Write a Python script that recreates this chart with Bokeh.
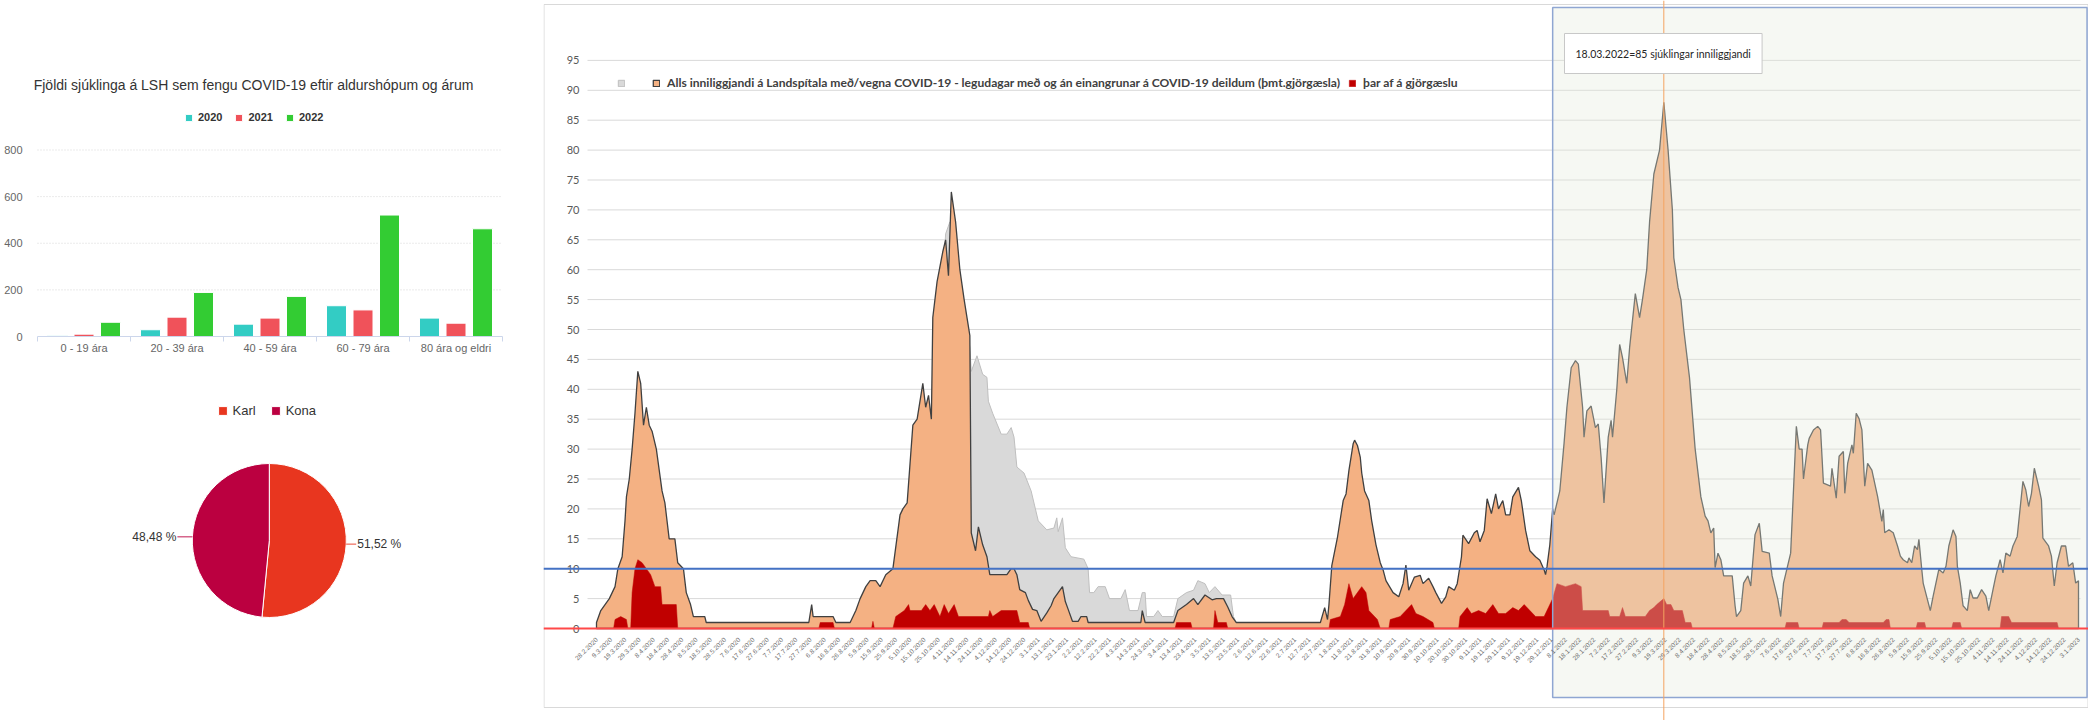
import math
from datetime import date, timedelta
from bokeh.plotting import figure
from bokeh.layouts import row, column
from bokeh.models import Range1d, FixedTicker, Span, Label, Legend, LegendItem, LinearAxis
from bokeh.embed import file_html
from bokeh.resources import INLINE

# ---------------- data: left bar chart ----------------
age_groups = ["0 - 19 ára", "20 - 39 ára", "40 - 59 ára", "60 - 79 ára", "80 ára og eldri"]
years = ["2020", "2021", "2022"]
patients_2020 = [3, 29, 53, 132, 79]
patients_2021 = [10, 83, 79, 114, 57]
patients_2022 = [61, 189, 172, 521, 462]
bar_ticks = [0, 200, 400, 600, 800]
bar_title = "Fjöldi sjúklinga á LSH sem fengu COVID-19 eftir aldurshópum og árum"

# ---------------- data: pie ----------------
sex_labels = ["Karl", "Kona"]
sex_share = [51.52, 48.48]
sex_text = ["51,52 %", "48,48 %"]

# ---------------- data: right area chart ----------------
START = date(2020, 2, 28)
inpatient_day = [0, 3, 6, 9, 11, 13, 15, 18, 20, 21, 23, 25, 27, 29, 31, 33, 35, 37, 39, 42, 46, 48, 51, 55, 57, 61, 63, 66, 68, 76, 77,
                 149, 151, 152, 166, 168, 178, 182, 185, 189, 192, 196, 199, 203, 208, 213, 215, 218, 222, 225, 229, 231, 233, 235,
                 236, 239, 243, 245, 247, 249, 252, 255, 258, 260, 262, 263, 266, 268, 271, 274, 276, 288, 291, 293, 295, 297, 301,
                 303, 306, 309, 312, 316, 319, 321, 324, 327, 329, 331, 334, 338, 340, 344, 345, 382, 383, 385, 405, 408, 414, 419,
                 422, 427, 432, 435, 440, 443, 446, 449, 508, 511, 513, 514, 516, 520, 524, 526, 528, 531, 532, 534, 536, 537, 539,
                 542, 544, 547, 550, 552, 554, 559, 563, 566, 568, 570, 574, 578, 580, 584, 587, 589, 593, 596, 598, 602, 604, 607,
                 608, 612, 616, 618, 620, 623, 625, 628, 631, 633, 636, 638, 641, 643, 647, 649, 652, 655, 659, 662, 665, 666, 667,
                 669, 671, 672, 676, 679, 681, 684, 687, 689, 692, 693, 695, 698, 701, 703, 705, 707, 710, 712, 713, 716, 718, 720,
                 723, 725, 729, 732, 734, 737, 739, 742, 746, 749, 752, 755, 756, 759, 761, 763, 767, 771, 775, 778, 780, 782, 784,
                 785, 787, 789, 791, 797, 799, 800, 803, 805, 808, 810, 813, 816, 818, 823, 825, 829, 831, 833, 838, 842, 844, 846,
                 847, 850, 851, 854, 857, 859, 861, 866, 867, 870, 872, 875, 876, 878, 881, 882, 884, 886, 888, 890, 892, 895, 899,
                 902, 903, 904, 907, 910, 913, 915, 917, 920, 921, 923, 925, 927, 928, 930, 931, 936, 938, 942, 945, 947, 949, 952,
                 954, 955, 957, 959, 962, 964, 966, 969, 972, 975, 977, 980, 982, 985, 987, 989, 992, 994, 997, 1001, 1003, 1005,
                 1007, 1009, 1012, 1014, 1015, 1019, 1021, 1023, 1025, 1028, 1031, 1033, 1036, 1038, 1040]
inpatient_val = [1, 3, 4, 5, 6, 7, 10, 12, 18, 22, 25, 30, 36, 43, 41, 34, 37, 34, 33, 30, 23, 21, 15, 15, 11, 10, 6, 4, 2, 2, 1,
                 1, 4, 2, 2, 1, 1, 3, 5, 7, 8, 8, 7, 9, 10, 19, 20, 21, 34, 35, 41, 37, 39, 35,
                 52, 58, 63, 65, 59, 73, 68, 60, 55, 52, 49, 16, 13, 17, 14, 12, 9, 9, 10, 10, 9, 6.5, 6,
                 4.7, 3.2, 3, 1.2, 2.6, 3.8, 5, 6, 7, 4.5, 3.2, 1.2, 1.2, 2, 2, 1, 1, 3, 1, 1, 3, 4, 5,
                 4, 5.6, 4.8, 5, 5, 3.6, 2, 1, 1, 3.5, 1.5, 4, 10.5, 15.3, 21.4, 22.5, 26.4, 30.9, 31.5, 30.6, 28.6, 26, 23,
                 21.4, 18, 14, 11, 9.8, 8, 6, 5.3, 7.5, 10.6, 6.4, 8.6, 8.9, 7.5, 8.4, 7, 6, 4.2, 5.3, 7, 6.4, 7.5, 12,
                 15.6, 14.2, 16, 16.4, 14.5, 16.4, 21.7, 19.2, 22.5, 20, 21.4, 19, 19, 22, 23.6, 21.4, 16.4, 13, 12, 11.4, 9.8, 9, 10.3,
                 14, 20, 19, 23, 31, 37, 43.6, 44.8, 44.2, 37, 32, 36.4, 37.2, 33.6, 34.2, 28.6, 21, 32, 34.8, 32, 40, 47.5, 45.3,
                 41, 47, 56, 52, 55, 60, 68, 76, 80, 88, 80, 70, 62, 57, 55, 50, 42, 30, 22, 18.8, 18, 16, 16.8,
                 10.2, 12.6, 11.5, 8.8, 8.8, 3.8, 2, 3, 7.6, 8.8, 7.1, 15.7, 17.6, 12.9, 12.6, 8.8, 4.9, 2, 7.6, 12.6, 33.8, 30, 30,
                 25, 30.7, 31.8, 33.2, 33.8, 33.2, 24.3, 23.8, 26.8, 21.8, 28.8, 29.6, 22.6, 27.6, 30.7, 29.3, 36, 35.1, 33.2, 23.8, 27.6, 26.5, 22.1,
                 17.9, 19.9, 16, 16.5, 16, 13.8, 12.1, 11.5, 11, 11.8, 11, 13.8, 13.2, 14.9, 9.9, 7.6, 3, 5.4, 9.9, 9.3, 10.4, 13.8, 16.5,
                 15.4, 10.4, 7.6, 3.8, 3, 6.5, 5.1, 5.1, 6.5, 5.4, 3, 6.5, 8.8, 11.5, 9.3, 12.6, 12.1, 13.8, 15.4, 24.6, 23.2, 20.4,
                 22.6, 26.8, 23.8, 21.5, 15.1, 13.8, 12.1, 7.1, 11, 13.8, 13.8, 10.4, 11, 7.6, 8]

icu_day = [12, 13, 17, 21, 22, 24, 25, 27, 29, 32, 35, 38, 41, 45, 46, 56, 57, 156, 157, 166, 167, 193, 194, 195,
           208, 210, 216, 219, 220, 228, 231, 234, 237, 241, 244, 247, 251, 254, 275, 276, 278, 284, 295, 297, 303, 304,
           406, 407, 417, 418, 433, 434, 436, 442, 443,
           514, 515, 522, 525, 528, 531, 534, 537, 540, 542, 546, 548, 550, 556, 557, 564, 568, 572, 575, 580, 587, 588,
           605, 606, 611, 614, 619, 624, 629, 633, 638, 643, 647, 651, 655, 659, 665, 668, 671, 674, 680, 687, 691, 692,
           710, 711, 718, 720, 722, 736, 739, 742, 744, 749, 751, 754, 756, 762, 764, 768, 769,
           834, 835, 843, 844, 860, 861, 872, 874, 877, 879, 903, 905, 907, 908, 926, 927, 932, 933, 951, 952, 957, 958,
           985, 986, 991, 993, 1025, 1026]
icu_val = [0, 1.5, 2, 1.5, 0, 0, 6, 10, 11.5, 11, 10, 9, 7, 7, 4, 4, 0, 0, 1, 1, 0, 0, 1.2, 0,
           0, 2, 3, 4, 3, 3, 4, 3, 4, 2, 4, 2.5, 4, 2, 2, 3, 2, 3, 3, 1, 1, 0,
           0, 1, 1, 0, 0, 3, 1, 1, 0,
           0, 1.5, 2, 4, 7.5, 5, 6, 7, 6, 3, 2, 1.5, 0, 0, 1.5, 2, 3, 4, 2.5, 2, 1, 0,
           0, 2, 3.5, 2.5, 3, 2.5, 4, 2.5, 2.5, 3.5, 3, 4, 3, 2, 2, 3.5, 5, 7.5, 7, 7.5, 7, 3,
           3, 2, 2, 3.5, 2, 2, 3, 3.5, 4, 5, 4, 4, 3, 3, 1, 1, 0,
           0, 1, 1, 0, 0, 1, 1, 1.5, 1.5, 1, 1, 1.5, 1.5, 0, 0, 1, 1, 0, 0, 1, 1, 0,
           0, 2, 2, 1, 1, 0]

older_def_day = [241, 245, 248, 252, 255, 262, 263, 267, 271, 274, 275, 278, 284, 288, 291, 293, 295, 300, 305, 310,
                 316, 321, 323, 324, 327, 329, 333, 342, 345, 346, 349, 352, 357, 360, 368, 371, 374, 380, 383, 385,
                 386, 391, 394, 397, 405, 408, 414, 419, 422, 427, 430, 434, 439, 445, 447, 449]
older_def_val = [50, 66, 68, 65, 58, 47, 43, 45.6, 42.5, 42, 38, 36, 32.5, 32.5, 33.6, 32, 27, 26, 23, 18,
                 16.5, 16.8, 18.5, 16.2, 18.5, 13.5, 12, 11.6, 10, 6, 6, 7, 7, 5, 5, 6.5, 3, 3, 6, 6,
                 2, 2, 3, 2, 2, 5, 6, 6.4, 8, 7.5, 6, 7, 5.6, 5.6, 2, 1]

y_ticks = list(range(0, 100, 5))
x_tick_days = list(range(0, 1041, 10))
x_tick_labels = [f"{d.day}.{d.month}.{d.year}" for d in (START + timedelta(days=k) for k in x_tick_days)]
highlight_from = date(2021, 12, 30)
highlight_to = date(2023, 1, 9)
marker_date = date(2022, 3, 18)
marker_text = "18.03.2022=85 sjúklingar inniliggjandi"
threshold_level = 10
legend_main = "Alls inniliggjandi á Landspítala með/vegna COVID-19 - legudagar með og án einangrunar á COVID-19 deildum (þmt.gjörgæsla)"
legend_icu = "þar af á gjörgæslu"

bar_colors = ["#33ccc4", "#f0525a", "#33cc33"]
sex_colors = ["#e8361f", "#bb0040"]
FONT = "Liberation Sans"
XL = "Lato"


def bare(p):
    p.min_border = 0
    p.min_border_left = p.min_border_right = p.min_border_top = p.min_border_bottom = 0
    p.grid.visible = False
    p.background_fill_color = "white"
    p.border_fill_color = "white"


# ================= bar chart (page x 0..543, y 0..380) =================
LW = 543
CAT0, CATW = 37.0, 93.0          # page x of category 0 start, px per category
Y0B, PPU_B = 336.0, 186.5 / 800  # page y of 0, px per patient
BH = 380
p1 = figure(width=LW, height=BH, output_backend="svg", toolbar_location=None, tools="",
            x_range=Range1d((0 - CAT0) / CATW, (LW - CAT0) / CATW),
            y_range=Range1d(-(BH - Y0B) / PPU_B, Y0B / PPU_B),
            outline_line_color=None)
bare(p1)
p1.segment(x0=0, x1=5, y0=bar_ticks[1:], y1=bar_ticks[1:], line_color="#d6d6d6", line_dash="1 2", line_width=1)

offsets = [-0.285, 0.0, 0.285]
bar_renderers = []
for j, vals in enumerate([patients_2020, patients_2021, patients_2022]):
    xs = [i + 0.5 + offsets[j] for i in range(len(age_groups))]
    r = p1.vbar(x=xs, top=vals, bottom=0, width=20 / CATW, fill_color=bar_colors[j], line_color="white", line_width=1)
    bar_renderers.append(r)

p1.xaxis.ticker = FixedTicker(ticks=list(range(len(age_groups) + 1)))
p1.xaxis.major_label_overrides = {i: "" for i in range(len(age_groups) + 1)}
p1.xaxis.fixed_location = 0
p1.xaxis.bounds = (0, len(age_groups))
p1.xaxis.axis_line_color = "#ccd6eb"
p1.xaxis.major_tick_line_color = "#ccd6eb"
p1.xaxis.major_tick_out = 5
p1.xaxis.major_tick_in = 0
p1.xaxis.minor_tick_line_color = None

cat_axis = LinearAxis(ticker=FixedTicker(ticks=[i + 0.5 for i in range(len(age_groups))]),
                      major_label_overrides={i + 0.5: g for i, g in enumerate(age_groups)},
                      axis_line_color=None, major_tick_line_color=None, minor_tick_line_color=None,
                      major_tick_out=0, major_tick_in=0, minor_tick_out=0, minor_tick_in=0,
                      major_label_standoff=5, major_label_text_font=FONT,
                      major_label_text_font_size="11px", major_label_text_color="#666666")
cat_axis.fixed_location = 0
p1.add_layout(cat_axis, "below")

p1.yaxis.ticker = FixedTicker(ticks=bar_ticks)
p1.yaxis.fixed_location = 0
p1.yaxis.axis_line_color = None
p1.yaxis.major_tick_line_color = None
p1.yaxis.minor_tick_line_color = None
p1.yaxis.major_tick_out = 0
p1.yaxis.major_tick_in = 0
p1.yaxis.major_label_standoff = 15
for ax in (p1.xaxis[0], p1.yaxis[0]):
    ax.major_label_text_font = FONT
    ax.major_label_text_font_size = "11px"
    ax.major_label_text_color = "#666666"

p1.add_layout(Label(x=(253 - CAT0) / CATW, y=(Y0B - 84) / PPU_B, text=bar_title, text_align="center",
                    text_baseline="middle", text_font=FONT, text_font_size="14px", text_color="#333333"))
leg1 = Legend(items=[LegendItem(label=y, renderers=[r]) for y, r in zip(years, bar_renderers)],
              orientation="horizontal", location=(184, BH - 123), glyph_width=9, glyph_height=9,
              label_height=12, label_standoff=5, spacing=12, padding=0, margin=0,
              border_line_color=None, background_fill_alpha=0,
              label_text_font=FONT, label_text_font_size="11px", label_text_font_style="bold",
              label_text_color="#333333")
p1.add_layout(leg1)

# ================= pie (page x 0..543, y 380..720) =================
PCX, PCY, PR = 268.8, 540.0, 77.0
PTOP, PBOT = 380, 720
p2 = figure(width=LW, height=PBOT - PTOP, output_backend="svg", toolbar_location=None, tools="",
            x_range=Range1d(0 - PCX, LW - PCX), y_range=Range1d(PCY - PBOT, PCY - PTOP),
            outline_line_color=None)
bare(p2)
p2.axis.visible = False
total = sum(sex_share)
start = math.pi / 2
pie_renderers = []
for lab, share, col, txt in zip(sex_labels, sex_share, sex_colors, sex_text):
    sweep = 2 * math.pi * share / total
    end = start - sweep
    r = p2.wedge(x=0, y=0, radius=PR, start_angle=start, end_angle=end, direction="clock",
                 fill_color=col, line_color="white", line_width=1)
    pie_renderers.append(r)
    mid = start - sweep / 2
    ex, ey = PR * math.cos(mid), PR * math.sin(mid)
    side = 1 if ex > 0 else -1
    conn = 10 if side > 0 else 15
    p2.segment(x0=ex, y0=ey, x1=ex + side * conn, y1=ey, line_color=col, line_alpha=0.6, line_width=1.5)
    p2.add_layout(Label(x=ex + side * (conn + 1), y=ey, text=txt, text_align="left" if side > 0 else "right",
                        text_baseline="middle", text_font=FONT, text_font_size="12px", text_color="#333333"))
    start = end
leg2 = Legend(items=[LegendItem(label=l, renderers=[r]) for l, r in zip(sex_labels, pie_renderers)],
              orientation="horizontal", location=(216.5, PBOT - 418), glyph_width=11, glyph_height=11,
              label_height=14, label_standoff=5, spacing=14, padding=0, margin=0,
              border_line_color=None, background_fill_alpha=0,
              label_text_font=FONT, label_text_font_size="13px", label_text_color="#333333")
p2.add_layout(leg2)

# ================= right area chart (page x 543..2088, y 0..720; panel border 4..707) =================
X0P, PPD = 596.0, 1.425   # page x of START, px per day
Y0P, PPV = 628.0, 5.98    # page y of 0 patients, px per patient
RL, RR, RT, RB = 543, 2088, 4, 707


def dpage(x):
    return (x - X0P) / PPD


def vpage(y):
    return (Y0P - y) / PPV


def days(d):
    return (d - START).days


p3 = figure(width=RR - RL, height=720, output_backend="svg", toolbar_location=None, tools="",
            x_range=Range1d(dpage(RL), dpage(RR)), y_range=Range1d(vpage(720), vpage(0)),
            outline_line_color=None)
bare(p3)
# panel border
p3.quad(left=dpage(RL + 0.5), right=dpage(RR - 0.5), bottom=vpage(RB), top=vpage(RT),
        fill_color=None, line_color="#d9d9d9", line_width=1)
p3.segment(x0=dpage(587), x1=dpage(2080), y0=y_ticks[1:], y1=y_ticks[1:], line_color="#d9d9d9", line_width=1)


def closed(xd, yv):
    return [xd[0]] + list(xd) + [xd[-1]], [0] + list(yv) + [0]


gx, gy = closed(older_def_day, older_def_val)
r_gray = p3.patch(x=gx, y=gy, fill_color="#d9d9d9", line_color="#bfbfbf", line_width=1)
ox, oy = closed(inpatient_day, inpatient_val)
r_or = p3.patch(x=ox, y=oy, fill_color="#f4b183", line_color="#404040", line_width=1.3)
rx, ry = closed(icu_day, icu_val)
r_red = p3.patch(x=rx, y=ry, fill_color="#c00000", line_color="#c00000", line_width=0.5)

p3.quad(left=days(highlight_from), right=days(highlight_to), bottom=vpage(697), top=vpage(7),
        fill_color="#e3ebdb", fill_alpha=0.33, line_color="#8fa6d2", line_width=1.5)

p3.add_layout(Span(location=days(marker_date), dimension="height", line_color="#f4a460", line_width=1))
p3.add_layout(Span(location=threshold_level, dimension="width", line_color="#4472c4", line_width=2))
p3.add_layout(Span(location=0, dimension="width", line_color="#ff4848", line_width=2))

p3.xaxis.ticker = FixedTicker(ticks=x_tick_days)
p3.xaxis.major_label_overrides = dict(zip(x_tick_days, x_tick_labels))
p3.xaxis.major_label_orientation = math.pi / 4
p3.xaxis.fixed_location = 0
p3.xaxis.major_label_standoff = 10
p3.xaxis.major_label_text_font_size = "6.5px"
p3.xaxis.major_label_text_color = "#6d6d6d"
p3.xaxis.major_label_text_font = FONT

p3.yaxis.ticker = FixedTicker(ticks=y_ticks)
p3.yaxis.fixed_location = dpage(582)
p3.yaxis.major_label_standoff = 3
p3.yaxis.major_label_text_font_size = "11px"
p3.yaxis.major_label_text_color = "#595959"
p3.yaxis.major_label_text_font = XL
for ax in (p3.xaxis[0], p3.yaxis[0]):
    ax.axis_line_color = None
    ax.major_tick_line_color = None
    ax.minor_tick_line_color = None
    ax.major_tick_out = 0
    ax.major_tick_in = 0
    ax.minor_tick_out = 0
    ax.minor_tick_in = 0

p3.add_layout(Label(x=dpage(1564), y=vpage(53), text=marker_text, text_align="left", text_baseline="middle",
                    text_font=XL, text_font_size="10.5px", text_color="#262626", padding=(11, 14),
                    background_fill_color="white", border_line_color="#c8c8c8", border_line_width=1))

common = dict(orientation="horizontal", glyph_width=8, glyph_height=8, label_height=14, padding=0, margin=0,
              border_line_color=None, background_fill_alpha=0, label_text_font=XL,
              label_text_font_size="12.1px", label_text_font_style="bold", label_text_color="#404040")
leg3a = Legend(items=[LegendItem(label=" ", renderers=[r_gray])], location=(617 - RL, 720 - 90),
               label_standoff=0, spacing=0, **common)
leg3b = Legend(items=[LegendItem(label=legend_main, renderers=[r_or]), LegendItem(label=legend_icu, renderers=[r_red])],
               location=(652 - RL, 720 - 90), label_standoff=7, spacing=8, **common)
p3.add_layout(leg3a)
p3.add_layout(leg3b)

layout = row(column(p1, p2), p3)
open("out.html", "w").write(file_html(layout, INLINE))
